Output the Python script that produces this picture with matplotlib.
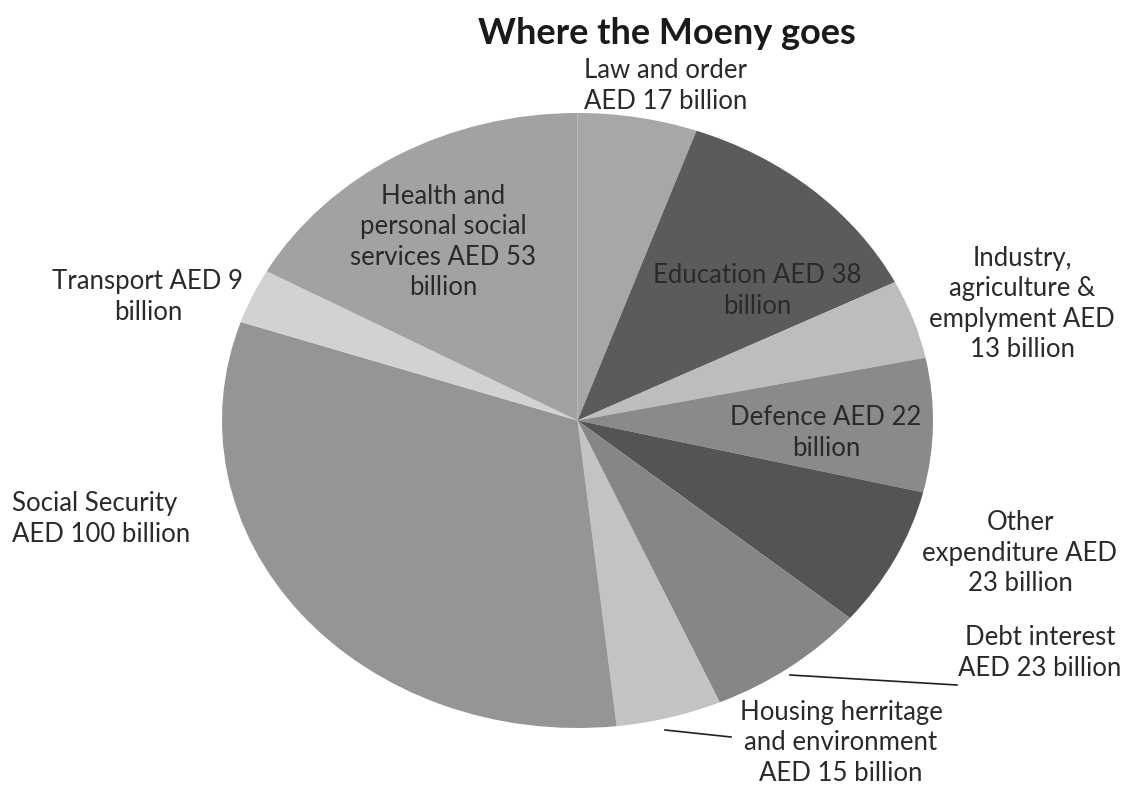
import matplotlib
matplotlib.use("Agg")
import matplotlib.pyplot as plt
from matplotlib.lines import Line2D

plt.rcParams['font.family'] = ['Lato', 'DejaVu Sans']

# spending, clockwise from 12 o'clock (AED billion)
categories = ["Law and order", "Education", "Industry, agriculture & emplyment",
              "Defence", "Other expenditure", "Debt interest",
              "Housing herritage and environment", "Social Security",
              "Transport", "Health and personal social services"]
values = [17, 38, 13, 22, 23, 23, 15, 100, 9, 53]

label_texts = [
    "Law and order\nAED 17 billion",
    "Education AED 38\nbillion",
    "Industry,\nagriculture &\nemplyment AED\n13 billion",
    "Defence AED 22\nbillion",
    "Other\nexpenditure AED\n23 billion",
    "Debt interest\nAED 23 billion",
    "Housing herritage\nand environment\nAED 15 billion",
    "Social Security\nAED 100 billion",
    "Transport AED 9\nbillion",
    "Health and\npersonal social\nservices AED 53\nbillion",
]

grays = ["#a7a7a7", "#5b5b5b", "#bdbdbd", "#8a8a8a", "#545454",
         "#868686", "#c3c3c3", "#959595", "#d2d2d2", "#a2a2a2"]

# label anchors in pixels (x, y from top) and alignment
label_pos = [(666, 86, 'center'), (757, 291, 'center'), (1022, 304, 'center'),
             (826, 433, 'center'), (1020, 553, 'center'), (1040, 653, 'center'),
             (841, 743, 'center'), (12, 519, 'left'), (148, 297, 'center'),
             (443, 242, 'center')]

W, H = 1128, 787
fig = plt.figure(figsize=(W / 100, H / 100), dpi=100)

# pie is drawn slightly squashed, as in the original spreadsheet chart
ax = fig.add_axes([222 / W, 1 - 728 / H, 711 / W, 615 / H])
ax.pie(values, colors=grays, startangle=90, counterclock=False,
       wedgeprops=dict(linewidth=0))
ax.set_aspect('auto')
ax.set_xlim(-1, 1)
ax.set_ylim(-1, 1)
ax.axis('off')

fig.text(667 / W, 1 - 33 / H, "Where the Moeny goes", ha='center', va='center',
         fontsize=26, fontweight='bold', color='#1a1a1a')

for txt, (px, py, ha) in zip(label_texts, label_pos):
    fig.text(px / W, 1 - py / H, txt, ha=ha, va='center', multialignment=ha,
             fontsize=18.5, color='#2a2a2a', linespacing=1.27)

# leader lines for the two small bottom slices
for (x0, y0), (x1, y1) in [((790, 675), (957, 685)), ((665, 730), (731, 737))]:
    fig.add_artist(Line2D([x0 / W, x1 / W], [1 - y0 / H, 1 - y1 / H],
                          color='#222222', linewidth=1.2))

fig.savefig("out.png", dpi=100)
